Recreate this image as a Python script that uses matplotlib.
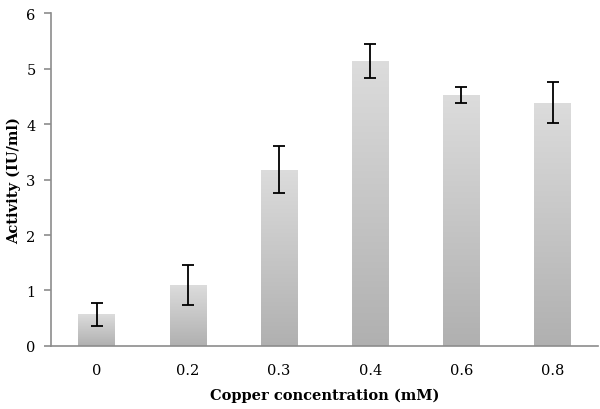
import numpy as np
import matplotlib.pyplot as plt

conc = ['0', '0.2', '0.3', '0.4', '0.6', '0.8']
activity = [0.57, 1.10, 3.18, 5.14, 4.52, 4.39]
err = [0.21, 0.36, 0.43, 0.30, 0.145, 0.365]

plt.rcParams['font.family'] = ['DejaVu Serif']

fig = plt.figure(figsize=(6, 4.1), dpi=100)
ax = fig.add_axes([0.085, 0.154, 0.912, 0.811])

x = np.arange(len(conc))
bars = ax.bar(x, activity, width=0.4, color='none', zorder=2)

# vertical grey gradient inside each bar
grad = np.linspace(0, 1, 256).reshape(-1, 1)
cmap = plt.cm.colors.LinearSegmentedColormap.from_list('g', ['#b0b0b0', '#dcdcdc'])
for b in bars:
    x0, y0 = b.get_x(), b.get_y()
    w, h = b.get_width(), b.get_height()
    im = ax.imshow(grad, cmap=cmap, origin='lower',
                   extent=[x0, x0 + w, y0, y0 + h], aspect='auto', zorder=1)
    im.set_clip_path(b)

ax.errorbar(x, activity, yerr=err, fmt='none', ecolor='black',
            elinewidth=1.3, capsize=4, capthick=1.3, zorder=3)

ax.set_xlim(-0.5, 5.5)
ax.set_ylim(0, 6)
ax.set_xticks(x)
ax.set_xticklabels(conc)
ax.set_yticks(range(7))

for s in ['top', 'right']:
    ax.spines[s].set_visible(False)
for s in ['left', 'bottom']:
    ax.spines[s].set_color('#8c8c8c')
    ax.spines[s].set_linewidth(1.2)

ax.tick_params(axis='x', length=0, pad=12, labelsize=10.5)
ax.tick_params(axis='y', length=5, color='#8c8c8c', width=1.2, labelsize=10.5, pad=6)

ax.set_xlabel('Copper concentration (mM)', fontweight='bold', fontsize=10.5, labelpad=8)
ax.set_ylabel('Activity (IU/ml)', fontweight='bold', fontsize=10.5, labelpad=4)

fig.savefig('out.png', dpi=100)
